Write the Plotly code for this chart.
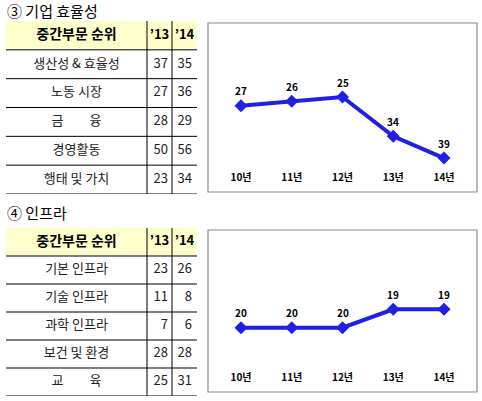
import plotly.graph_objects as go

W, H = 482, 401
FONT = "Noto Sans CJK KR"
BLUE = "#1f1fe6"

years = ["10년", "11년", "12년", "13년", "14년"]

# ③ 기업 효율성
eff_title = "③ 기업 효율성"
eff_items = ["생산성 & 효율성", "노동 시장", "금　　융", "경영활동", "행태 및 가치"]
eff_13 = [37, 27, 28, 50, 23]
eff_14 = [35, 36, 29, 56, 34]
eff_rank = [27, 26, 25, 34, 39]

# ④ 인프라
inf_title = "④ 인프라"
inf_items = ["기본 인프라", "기술 인프라", "과학 인프라", "보건 및 환경", "교　　육"]
inf_13 = [23, 11, 7, 28, 25]
inf_14 = [26, 8, 6, 28, 31]
inf_rank = [20, 20, 20, 19, 19]

header = ["중간부문 순위", "’13", "’14"]


def px_x(p):
    return p / W


def px_y(p):
    return 1 - p / H


fig = go.Figure()

# line charts: (xaxis, yaxis, data, top px, axis-line px, box bottom px, y range)
charts = [
    ("x", "y", eff_rank, 23, 170, 192, [41.74, 8.03]),
    ("x2", "y2", inf_rank, 230, 370, 392, [22.30, 14.69]),
]
for xa, ya, vals, top, bot, box_bot, yr in charts:
    fig.add_trace(go.Scatter(
        x=years, y=vals, mode="lines+markers", xaxis=xa, yaxis=ya,
        line=dict(color=BLUE, width=4),
        marker=dict(symbol="diamond", size=10, color=BLUE),
        showlegend=False, hoverinfo="skip",
    ))
    for yv, v in zip(years, vals):
        fig.add_annotation(x=yv, y=v, xref=xa, yref=ya, text="<b>%d</b>" % v,
                           showarrow=False, yshift=15,
                           font=dict(family=FONT, size=10, color="black"))
    n = "" if xa == "x" else "2"
    fig.layout["xaxis" + n] = dict(
        domain=[px_x(208), px_x(477)], range=[-0.65, 4.65],
        anchor="y" + n, showgrid=False, zeroline=False, showline=False,
        ticks="", tickfont=dict(family=FONT, size=10, color="black", weight="bold"),
    )
    fig.layout["yaxis" + n] = dict(
        domain=[px_y(bot), px_y(top)], range=yr, anchor="x" + n,
        showgrid=False, zeroline=False, showline=False, showticklabels=False,
    )
    fig.add_shape(type="rect", xref="paper", yref="paper",
                  x0=px_x(208), x1=px_x(477), y0=px_y(box_bot), y1=px_y(top),
                  line=dict(color="#8c8c8c", width=1.2))

# tables: (xaxis, yaxis, title, items, c13, c14, title px, top px, bottom px)
tables = [
    ("x3", "y3", eff_title, eff_items, eff_13, eff_14, 10, 21, 194),
    ("x4", "y4", inf_title, inf_items, inf_13, inf_14, 212, 228, 396),
]
col_edges = [6, 147, 172, 197]
for xa, ya, title, items, c13, c14, ty, top, bot in tables:
    n = xa[1:]
    fig.layout["xaxis" + n] = dict(domain=[0, 1], range=[0, W], anchor=ya,
                                   visible=False)
    fig.layout["yaxis" + n] = dict(domain=[px_y(bot), px_y(top)],
                                   range=[len(items) + 0.5, -0.5], anchor=xa,
                                   visible=False)
    rows = list(range(1, len(items) + 1))
    # header
    fig.add_shape(type="rect", xref=xa, yref=ya, x0=col_edges[0], x1=col_edges[3],
                  y0=-0.5, y1=0.5, fillcolor="#ffffcc", line=dict(width=0),
                  layer="below")
    fig.add_trace(go.Scatter(
        x=[(col_edges[0] + col_edges[1]) / 2, (col_edges[1] + col_edges[2]) / 2,
           (col_edges[2] + col_edges[3]) / 2],
        y=[0, 0, 0], text=["<b>%s</b>" % h for h in header], mode="text",
        xaxis=xa, yaxis=ya, textposition="middle center",
        textfont=dict(family=FONT, size=[14, 13, 13], color="black"),
        showlegend=False, hoverinfo="skip",
    ))
    fig.add_trace(go.Scatter(
        x=[(col_edges[0] + col_edges[1]) / 2] * len(items), y=rows, text=items,
        mode="text", xaxis=xa, yaxis=ya, textposition="middle center",
        textfont=dict(family=FONT, size=13, color="#222222"),
        showlegend=False, hoverinfo="skip",
    ))
    for edge, col in ((col_edges[2] - 4, c13), (col_edges[3] - 5, c14)):
        fig.add_trace(go.Scatter(
            x=[edge] * len(col), y=rows, text=[str(v) for v in col],
            mode="text", xaxis=xa, yaxis=ya, textposition="middle left",
            textfont=dict(family=FONT, size=13, color="#222222"),
            showlegend=False, hoverinfo="skip",
        ))
    for i in range(len(items) + 1):
        fig.add_shape(type="line", xref=xa, yref=ya, x0=col_edges[0], x1=col_edges[3],
                      y0=i + 0.5, y1=i + 0.5, line=dict(color="black", width=1))
    for e in col_edges[1:3]:
        fig.add_shape(type="line", xref=xa, yref=ya, x0=e, x1=e,
                      y0=-0.5, y1=len(items) + 0.5, line=dict(color="black", width=1))
    fig.add_annotation(x=px_x(5), y=px_y(ty), xref="paper", yref="paper",
                       text=title, showarrow=False, xanchor="left", yanchor="middle",
                       font=dict(family=FONT, size=15, color="black"))

fig.update_layout(
    width=W, height=H, margin=dict(l=0, r=0, t=0, b=0),
    paper_bgcolor="white", plot_bgcolor="rgba(0,0,0,0)",
)

# drop the browser's default 8px body margin so the figure fills the window
fig.write_html("out.html", config={"displayModeBar": False},
               post_script="document.body.style.margin='0';")
